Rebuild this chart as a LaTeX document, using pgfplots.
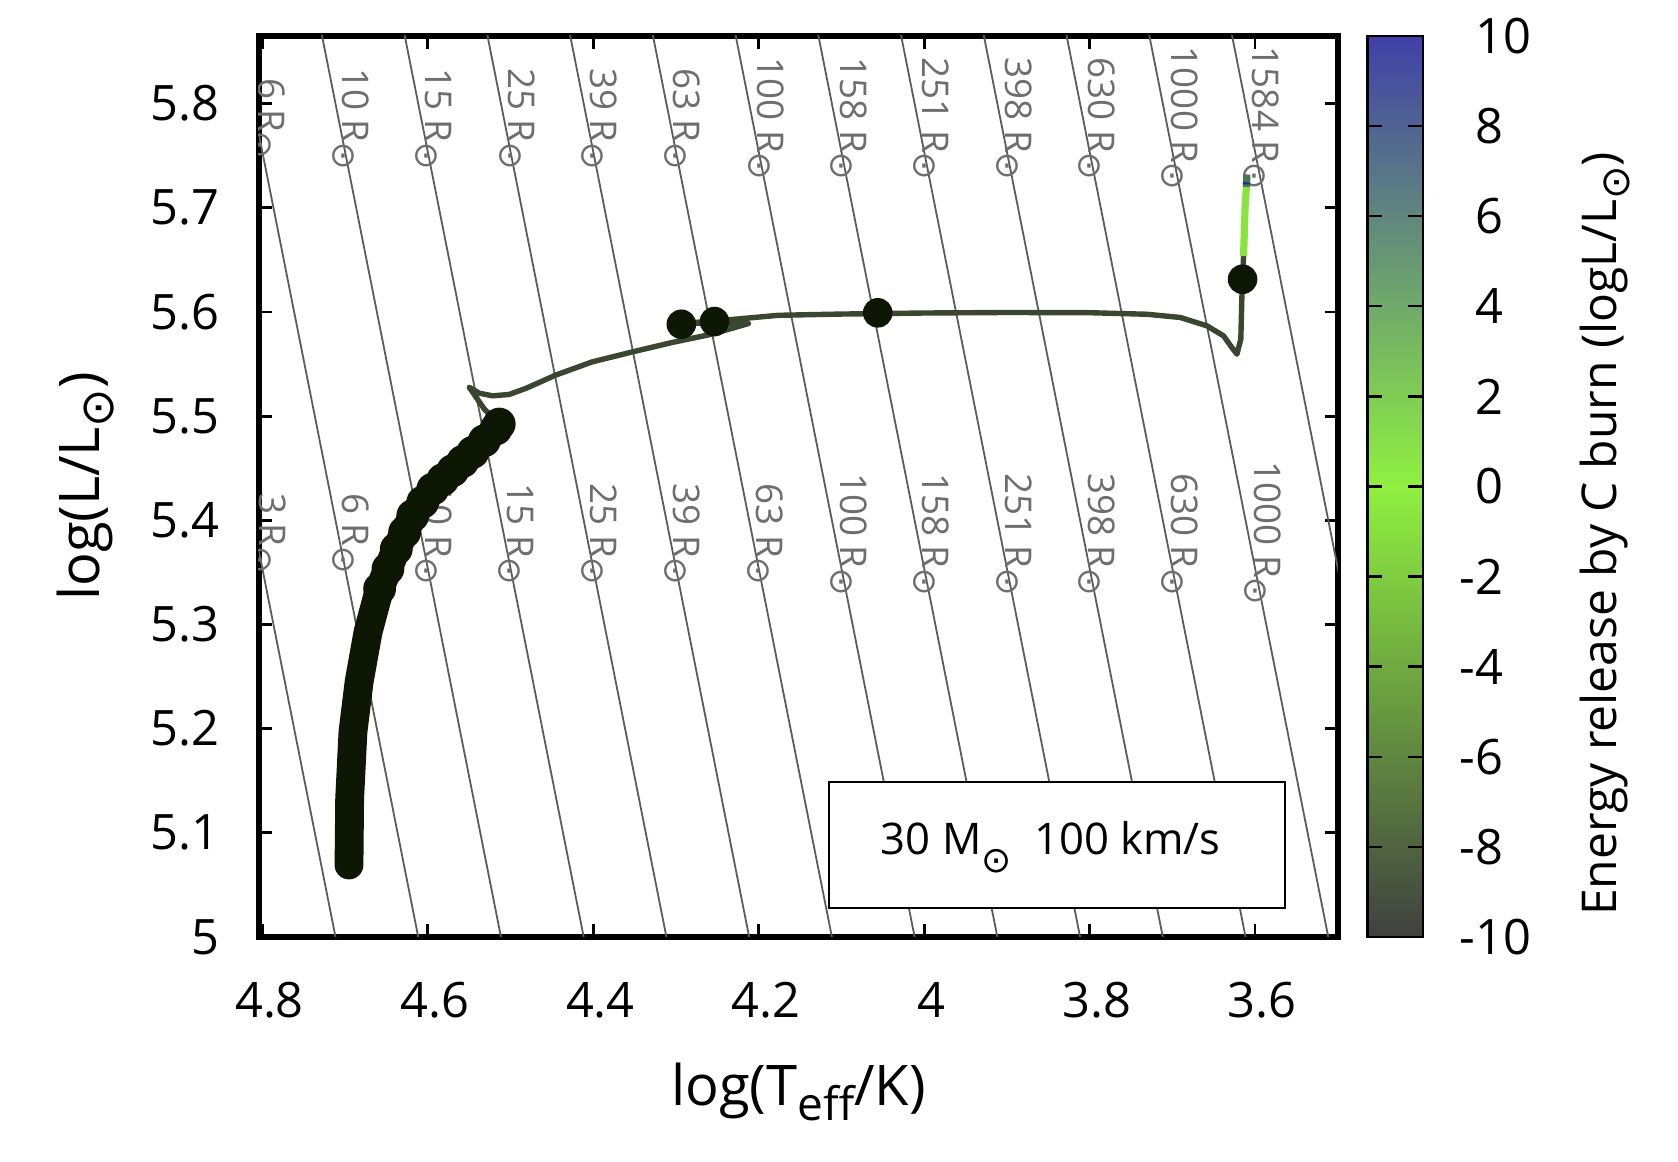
\documentclass[border=0pt]{standalone}
\usepackage{pgfplots}
\pgfplotsset{compat=1.18}
\usetikzlibrary{calc}
\usepackage{fontspec}
\setmainfont{Open Sans}
\newfontfamily\dv{DejaVu Sans}
\definecolor{msdark}{RGB}{14,22,4}
\definecolor{trackc}{RGB}{58,70,48}
\definecolor{rline}{RGB}{92,92,92}
\definecolor{rtext}{RGB}{110,110,110}
\definecolor{cgreen}{RGB}{136,228,62}
\definecolor{cbmin}{RGB}{64,64,64}
\definecolor{cbmid}{RGB}{144,240,64}
\definecolor{cbmax}{RGB}{64,64,168}
\newcommand{\sun}[2]{\raisebox{#2}{\fontsize{#1}{#1}\selectfont\dv ⊙}}
\newcommand{\lsub}[1]{\raisebox{-3.9pt}{\fontsize{11.5}{12}\selectfont #1}}
\newcommand{\rlab}[3]{%
  \node[rotate=-90,anchor=base east,inner sep=0pt,text=rtext,font=\fontsize{9.2}{10}\selectfont] at ($(axis cs:#1,#2)+(-0.4pt,3.1pt)$) {#3 R};
  \node[inner sep=0pt,text=rtext,font=\fontsize{8.3}{9}\selectfont\dv] at (axis cs:#1,#2) {⊙};}
\begin{document}
\begin{tikzpicture}
\path[use as bounding box] (0,0) rectangle (419.5pt,290.5pt);
\begin{axis}[
  at={(64.75pt,56.26pt)}, anchor=south west,
  width=269.7pt, height=225.25pt, scale only axis,
  x dir=reverse, xmin=3.5, xmax=4.804, ymin=5, ymax=5.865,
  xtick={3.6,3.8,4.0,4.2,4.4,4.6,4.8},
  ytick={5,5.1,5.2,5.3,5.4,5.5,5.6,5.7,5.8},
  tick align=inside,
  major tick length=3.2pt,
  every tick/.style={black, line width=0.7pt},
  axis line style={line width=1.4pt},
  tick label style={font=\fontsize{12.2}{14}\selectfont},
  xticklabel style={anchor=north, inner sep=0pt, yshift=-11.2pt, xshift=1.8pt},
  yticklabel style={anchor=east, inner sep=0pt, xshift=-9.6pt},
  /pgf/number format/assume math mode=true,
  xlabel={log(T\lsub{eff}/K)},
  ylabel={log(L/L\sun{11.5}{-3.4pt})},
  label style={font=\fontsize{14}{16}\selectfont},
  xlabel style={at={(axis description cs:0.5,-0.172)}, anchor=center},
  ylabel style={at={(axis description cs:-0.1607,0.5)}, anchor=center},
]
% constant-radius lines, R = 10^(0.2k) Rsun, k = 3..16
\addplot[rline, line width=0.45pt] coordinates {(4.6865,4.9) (4.9615,6.0)};
\addplot[rline, line width=0.45pt] coordinates {(4.5865,4.9) (4.8615,6.0)};
\addplot[rline, line width=0.45pt] coordinates {(4.4865,4.9) (4.7615,6.0)};
\addplot[rline, line width=0.45pt] coordinates {(4.3865,4.9) (4.6615,6.0)};
\addplot[rline, line width=0.45pt] coordinates {(4.2865,4.9) (4.5615,6.0)};
\addplot[rline, line width=0.45pt] coordinates {(4.1865,4.9) (4.4615,6.0)};
\addplot[rline, line width=0.45pt] coordinates {(4.0865,4.9) (4.3615,6.0)};
\addplot[rline, line width=0.45pt] coordinates {(3.9865,4.9) (4.2615,6.0)};
\addplot[rline, line width=0.45pt] coordinates {(3.8865,4.9) (4.1615,6.0)};
\addplot[rline, line width=0.45pt] coordinates {(3.7865,4.9) (4.0615,6.0)};
\addplot[rline, line width=0.45pt] coordinates {(3.6865,4.9) (3.9615,6.0)};
\addplot[rline, line width=0.45pt] coordinates {(3.5865,4.9) (3.8615,6.0)};
\addplot[rline, line width=0.45pt] coordinates {(3.4865,4.9) (3.7615,6.0)};
\addplot[rline, line width=0.45pt] coordinates {(3.3865,4.9) (3.6615,6.0)};
% labels, upper row
\rlab{4.8027}{5.760}{6}
\rlab{4.7016}{5.750}{10}
\rlab{4.6012}{5.750}{15}
\rlab{4.5007}{5.750}{25}
\rlab{4.4012}{5.750}{39}
\rlab{4.3007}{5.750}{63}
\rlab{4.1995}{5.740}{100}
\rlab{4.0997}{5.740}{158}
\rlab{4.0000}{5.740}{251}
\rlab{3.8995}{5.740}{398}
\rlab{3.8000}{5.740}{630}
\rlab{3.6996}{5.730}{1000}
\rlab{3.6008}{5.730}{1584}
% labels, lower row
\rlab{4.8019}{5.362}{3}
\rlab{4.7016}{5.362}{6}
\rlab{4.6012}{5.351}{10}
\rlab{4.5016}{5.351}{15}
\rlab{4.4012}{5.351}{25}
\rlab{4.3007}{5.351}{39}
\rlab{4.2003}{5.351}{63}
\rlab{4.0997}{5.341}{100}
\rlab{4.0000}{5.341}{158}
\rlab{3.8995}{5.341}{251}
\rlab{3.8000}{5.341}{398}
\rlab{3.6996}{5.341}{630}
\rlab{3.5992}{5.332}{1000}
% main sequence band
\addplot[msdark, line width=7.2pt, line cap=round, line join=round] coordinates {
(4.6952,5.0691) (4.6944,5.1330) (4.6904,5.1969) (4.6830,5.2448) (4.6722,5.2927)
(4.6582,5.3343) (4.6380,5.3725) (4.6181,5.4045) (4.5939,5.4300) (4.5698,5.4477)
(4.5457,5.4652) (4.5176,5.4876) (4.5136,5.4924)};
\addplot[only marks, mark=*, mark size=3.9pt, msdark] coordinates {
(4.6582,5.3343) (4.6481,5.3534) (4.6380,5.3725) (4.6280,5.3885) (4.6181,5.4045)
(4.6060,5.4175) (4.5939,5.4300) (4.5818,5.4390) (4.5698,5.4477)
(4.5577,5.4565) (4.5457,5.4652) (4.5316,5.4764) (4.5176,5.4876) (4.5136,5.4924)};
% post main sequence track
\addplot[trackc, line width=1.35pt, line join=round] coordinates {
(4.5136,5.4924) (4.5317,5.5068) (4.5497,5.5276) (4.5377,5.5220) (4.5216,5.5195)
(4.5016,5.5208) (4.4815,5.5266) (4.4453,5.5394) (4.4012,5.5521) (4.3529,5.5616)
(4.3047,5.5707) (4.2566,5.5787) (4.2124,5.5889) (4.2500,5.5893) (4.2935,5.5890)
(4.2500,5.5915) (4.1763,5.5968) (4.1000,5.5980) (4.0000,5.5990) (3.9000,5.5995)
(3.8000,5.5993) (3.7304,5.5978) (3.6903,5.5947) (3.6582,5.5867) (3.6380,5.5770)
(3.6280,5.5658) (3.6219,5.5595) (3.6172,5.5739) (3.6160,5.6122) (3.6151,5.6314)
(3.6139,5.6536)};
\addplot[cgreen, line width=1.8pt] coordinates {(3.6139,5.6536) (3.6120,5.7016) (3.6105,5.7200)};
\addplot[color={rgb,255:red,70;green,120;blue,80}, line width=1.8pt] coordinates {(3.6105,5.7200) (3.6099,5.7320)};
\addplot[color={rgb,255:red,40;green,40;blue,150}, line width=1.8pt] coordinates {(3.6104,5.7225) (3.6103,5.7245)};
% markers
\addplot[only marks, mark=*, mark size=3.5pt, msdark] coordinates {
(4.2935,5.5882) (4.2534,5.5908) (4.0561,5.5992) (3.6151,5.6314)};
% label box
\draw[line width=0.5pt, fill=white] (axis cs:4.1154,5.149) rectangle (axis cs:3.5635,5.028);
\node[anchor=base, inner sep=0pt, font=\fontsize{10.9}{13}\selectfont] at (axis cs:3.847,5.0787) {30 M\sun{9}{-4.3pt}\ \ 100 km/s};
\end{axis}
% colour bar
\begin{axis}[
  at={(341.9pt,56.26pt)}, anchor=south west,
  width=13.9pt, height=225.25pt, scale only axis,
  xmin=0, xmax=1, ymin=-10, ymax=10,
  xtick=\empty,
  ytick={-10,-8,-6,-4,-2,0,2,4,6,8,10},
  yticklabels={\llap{-}10,\llap{-}8,\llap{-}6,\llap{-}4,\llap{-}2,0,2,4,6,8,10},
  yticklabel pos=right, ytick pos=both,
  tick align=inside, major tick length=3.7pt,
  every tick/.style={black, line width=0.6pt},
  yticklabel style={anchor=west, inner sep=0pt, xshift=12.9pt, font=\fontsize{12.2}{14}\selectfont},
  axis line style={line width=0.6pt},
  axis on top,
]
\addplot[draw=none, bottom color=cbmin, top color=cbmid] coordinates {(0,-10) (1,-10) (1,0) (0,0)};
\addplot[draw=none, bottom color=cbmid, top color=cbmax] coordinates {(0,0) (1,0) (1,10) (0,10)};
\end{axis}
\node[rotate=90, inner sep=0pt, font=\fontsize{12}{14}\selectfont] at (401.3pt,157pt) {Energy release by C burn (logL/L\sun{10}{-3.2pt})};
\end{tikzpicture}
\end{document}
